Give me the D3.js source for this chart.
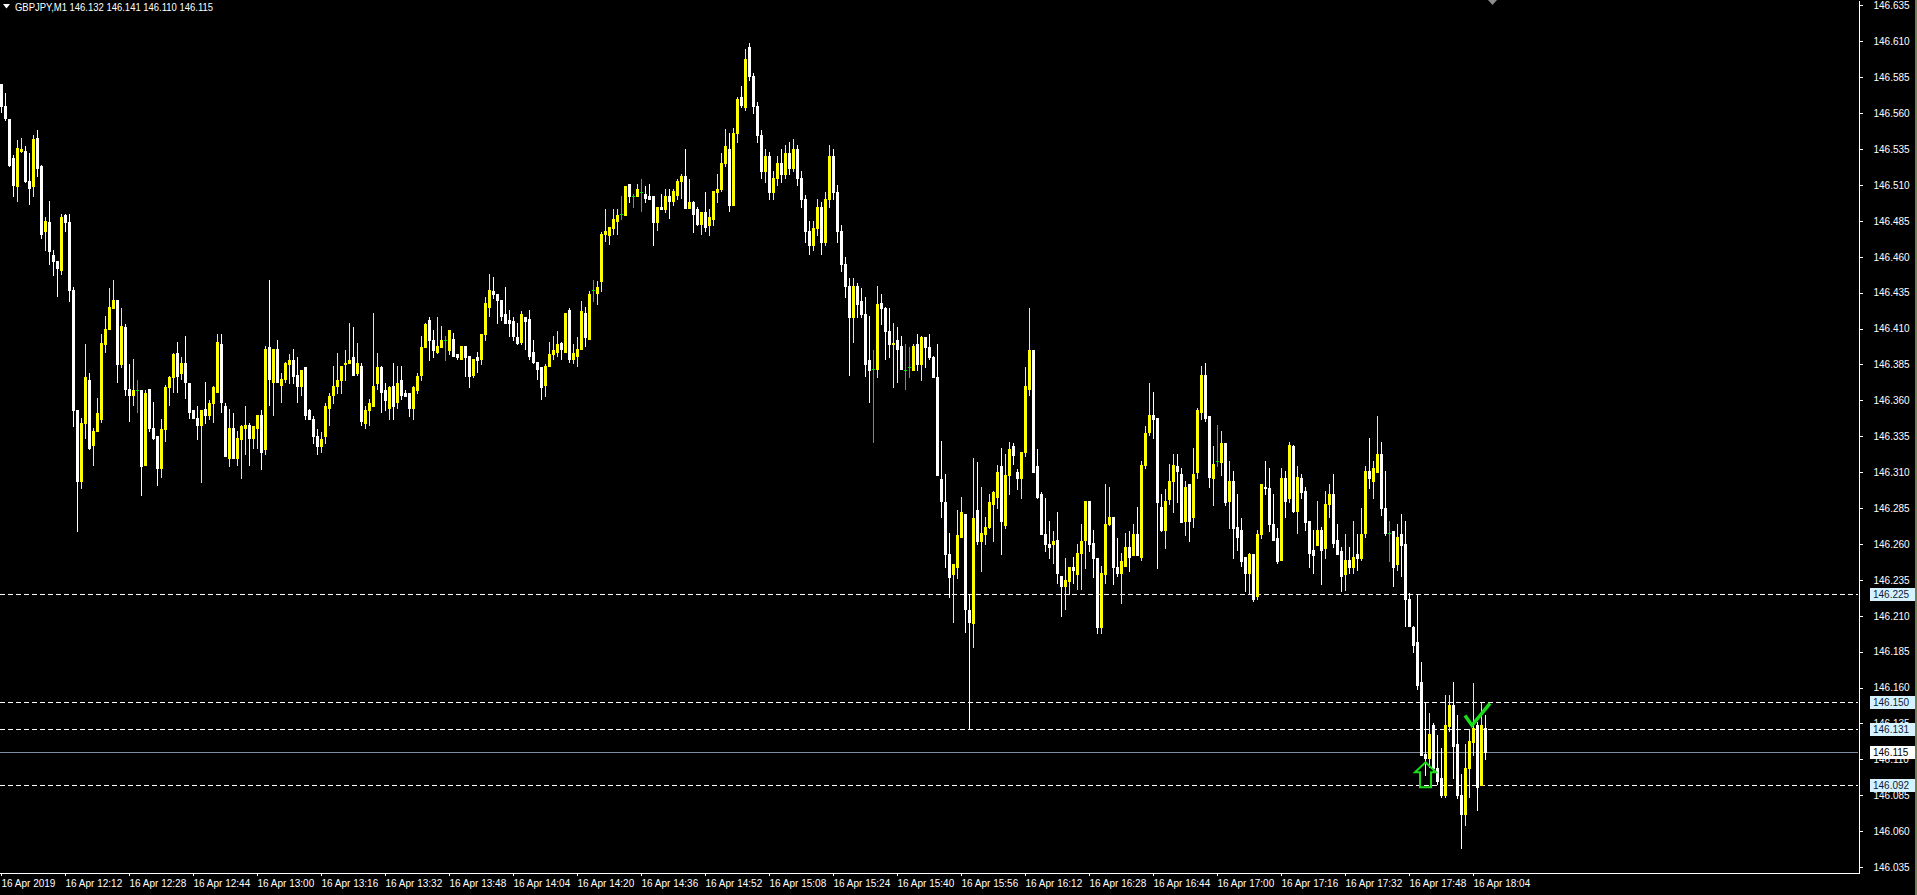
<!DOCTYPE html>
<html><head><meta charset="utf-8">
<script src="https://cdn.jsdelivr.net/npm/d3@7"></script>
<style>body{margin:0;background:#000;overflow:hidden}svg{display:block}</style>
</head><body><svg id="c" width="1917" height="895"></svg>
<script>
const symbol = "GBPJPY,M1";
const lastQuote = "146.132 146.141 146.110 146.115";
const opens = [
146.580,146.565,146.556,146.529,146.509,146.534,146.534,146.513,146.509,146.543,
146.523,146.478,146.484,146.461,146.457,146.451,146.489,146.484,146.437,146.353,
146.304,146.344,146.374,146.329,146.339,146.347,146.399,146.410,146.424,146.430,
146.385,146.411,146.368,146.364,146.367,146.367,146.315,146.368,146.341,146.335,
146.313,146.340,146.369,146.376,146.393,146.379,146.386,146.372,146.353,146.348,
146.343,146.354,146.350,146.358,146.366,146.399,146.356,146.320,146.341,146.320,
146.333,146.341,146.343,146.334,146.341,146.350,146.326,146.397,146.373,146.396,
146.371,146.375,146.385,146.388,146.378,146.370,146.383,146.353,146.347,146.335,
146.328,146.335,146.355,146.364,146.370,146.374,146.385,146.386,146.390,146.379,
146.384,146.344,146.353,146.356,146.372,146.383,146.367,146.355,146.370,146.359,
146.374,146.365,146.365,146.355,146.367,146.378,146.397,146.416,146.402,146.394,
146.397,146.402,146.395,146.403,146.392,146.389,146.398,146.391,146.378,146.390,
146.389,146.406,146.425,146.436,146.434,146.430,146.420,146.416,146.415,146.404,
146.401,146.418,146.417,146.394,146.387,146.383,146.371,146.384,146.392,146.394,
146.400,146.394,146.423,146.389,146.391,146.396,146.421,146.403,146.437,146.435,
146.443,146.476,146.475,146.480,146.485,146.490,146.489,146.511,146.502,146.502,
146.505,146.504,146.502,146.502,146.484,146.495,146.493,146.502,146.499,146.503,
146.513,146.516,146.494,146.498,146.493,146.483,146.491,146.482,146.486,146.505,
146.507,146.525,146.535,146.496,146.546,146.571,146.564,146.606,146.586,146.565,
146.545,146.520,146.530,146.505,146.515,146.525,146.518,146.532,146.522,146.535,
146.515,146.500,146.478,146.468,146.480,146.495,146.470,146.500,146.530,146.505,
146.478,146.455,146.440,146.418,146.440,146.429,146.420,146.388,146.382,146.382,
146.428,146.424,146.408,146.399,146.402,146.398,146.381,146.383,146.381,146.399,
146.385,146.404,146.397,146.390,146.376,146.305,146.289,146.253,146.239,146.244,
146.265,146.281,146.214,146.205,146.284,146.262,146.267,146.272,146.288,146.293,
146.314,146.273,146.308,146.328,146.310,146.306,146.324,146.368,146.395,146.314,
146.295,146.267,146.260,146.260,146.263,146.238,146.231,146.234,146.244,146.239,
146.254,146.263,146.290,146.261,146.250,146.202,146.239,146.274,146.279,146.244,
146.240,146.245,146.258,146.252,146.267,146.251,146.315,146.338,146.350,146.348,
146.286,146.270,146.291,146.304,146.314,146.309,146.276,146.302,146.279,146.310,
146.352,146.378,146.349,146.306,146.318,146.317,146.330,146.290,146.304,146.272,
146.270,146.251,146.240,146.253,146.224,146.267,146.300,146.299,146.274,146.264,
146.249,146.306,146.292,146.328,146.283,146.306,146.297,146.276,146.256,146.259,
146.270,146.257,146.288,146.295,146.263,146.255,146.239,146.249,146.244,146.253,
146.250,146.268,146.311,146.304,146.310,146.323,146.285,146.268,146.269,146.246,
146.267,146.260,146.222,146.202,146.192,146.164,146.114,146.111,146.134,146.104,
146.097,146.085,146.133,146.148,146.121,146.085,146.072,146.104,146.122,146.134,
146.092,146.132];
const highs = [
146.580,146.574,146.556,146.531,146.541,146.543,146.537,146.532,146.545,146.548,
146.524,146.488,146.499,146.465,146.457,146.490,146.490,146.490,146.439,146.353,
146.348,146.399,146.379,146.341,146.362,146.406,146.419,146.438,146.444,146.430,
146.424,146.413,146.385,146.389,146.374,146.367,146.367,146.368,146.359,146.335,
146.347,146.371,146.377,146.393,146.401,146.390,146.405,146.372,146.353,146.356,
146.353,146.373,146.360,146.370,146.406,146.406,146.358,146.354,146.351,146.339,
146.343,146.356,146.344,146.342,146.350,146.353,146.398,146.444,146.396,146.402,
146.379,146.387,146.392,146.396,146.390,146.381,146.383,146.354,146.349,146.340,
146.338,146.358,146.365,146.384,146.393,146.384,146.395,146.414,146.411,146.400,
146.386,146.356,146.361,146.421,146.393,146.384,146.372,146.370,146.386,146.384,
146.384,146.367,146.365,146.370,146.379,146.405,146.414,146.418,146.409,146.418,
146.412,146.405,146.409,146.407,146.392,146.398,146.398,146.391,146.389,146.394,
146.406,146.432,146.448,146.446,146.434,146.430,146.439,146.423,146.418,146.414,
146.422,146.418,146.423,146.402,146.387,146.383,146.385,146.401,146.405,146.408,
146.401,146.421,146.424,146.399,146.404,146.429,146.425,146.436,146.444,146.443,
146.477,146.493,146.481,146.493,146.493,146.502,146.509,146.511,146.504,146.511,
146.514,146.509,146.511,146.502,146.495,146.504,146.507,146.507,146.507,146.514,
146.518,146.535,146.514,146.499,146.495,146.491,146.505,146.493,146.506,146.518,
146.532,146.549,146.546,146.550,146.571,146.579,146.605,146.609,146.588,146.568,
146.548,146.535,146.533,146.520,146.530,146.535,146.538,146.540,146.542,146.538,
146.520,146.503,146.485,146.485,146.500,146.498,146.505,146.538,146.535,146.510,
146.482,146.460,146.445,146.445,146.442,146.438,146.432,146.419,146.395,146.440,
146.434,146.425,146.424,146.414,146.411,146.405,146.399,146.397,146.399,146.406,
146.405,146.404,146.406,146.391,146.399,146.332,146.309,146.268,146.246,146.284,
146.293,146.281,146.225,146.320,146.317,146.300,146.279,146.295,146.297,146.315,
146.327,146.323,146.331,146.330,146.312,146.324,146.383,146.424,146.395,146.326,
146.296,146.292,146.276,146.269,146.282,146.238,146.250,146.244,146.251,146.260,
146.274,146.290,146.290,146.270,146.250,146.245,146.302,146.300,146.279,146.264,
146.254,146.268,146.269,146.274,146.286,146.318,146.342,146.372,146.366,146.348,
146.295,146.298,146.316,146.323,146.323,146.313,146.304,146.302,146.327,146.355,
146.384,146.386,146.349,146.328,146.343,146.339,146.330,146.318,146.311,146.295,
146.278,146.251,146.254,146.253,146.270,146.302,146.318,146.313,146.295,146.271,
146.313,146.311,146.331,146.329,146.314,146.309,146.300,146.276,146.270,146.290,
146.272,146.297,146.302,146.309,146.274,146.258,146.267,146.258,146.276,146.267,
146.285,146.314,146.334,146.318,146.349,146.331,146.311,146.276,146.269,146.274,
146.281,146.276,146.226,146.203,146.225,146.178,146.149,146.142,146.135,146.127,
146.118,146.155,146.155,146.164,146.141,146.100,146.121,146.131,146.163,146.136,
146.149,146.141];
const lows = [
146.561,146.555,146.523,146.502,146.499,146.533,146.512,146.497,146.502,146.516,
146.473,146.465,146.455,146.447,146.433,146.448,146.478,146.429,146.342,146.269,
146.299,146.334,146.326,146.315,146.339,146.345,146.394,146.410,146.424,146.373,
146.383,146.364,146.346,146.357,146.352,146.294,146.315,146.339,146.333,146.301,
146.307,146.332,146.357,146.366,146.366,146.375,146.362,146.348,146.348,146.333,
146.303,146.344,146.347,146.345,146.366,146.352,146.321,146.314,146.320,146.315,
146.306,146.323,146.315,146.327,146.327,146.312,146.323,146.357,146.350,146.373,
146.359,146.373,146.372,146.372,146.359,146.364,146.347,146.347,146.330,146.323,
146.324,146.330,146.343,146.358,146.365,146.365,146.374,146.386,146.378,146.378,
146.343,146.341,146.343,146.356,146.368,146.352,146.353,146.347,146.347,146.355,
146.361,146.363,146.349,146.347,146.365,146.374,146.397,146.388,146.390,146.393,
146.397,146.388,146.392,146.391,146.389,146.389,146.377,146.369,146.376,146.380,
146.385,146.402,146.419,146.431,146.414,146.416,146.414,146.405,146.402,146.399,
146.399,146.396,146.389,146.386,146.375,146.361,146.363,146.384,146.389,146.391,
146.389,146.394,146.387,146.386,146.384,146.396,146.398,146.403,146.429,146.427,
146.436,146.471,146.469,146.476,146.476,146.486,146.489,146.498,146.495,146.502,
146.492,146.498,146.500,146.468,146.479,146.493,146.491,146.487,146.496,146.500,
146.501,146.494,146.494,146.477,146.482,146.476,146.478,146.475,146.482,146.498,
146.506,146.523,146.492,146.496,146.540,146.564,146.562,146.583,146.560,146.540,
146.515,146.512,146.500,146.500,146.510,146.512,146.515,146.518,146.520,146.510,
146.495,146.470,146.462,146.465,146.475,146.462,146.468,146.495,146.500,146.470,
146.450,146.432,146.378,146.401,146.418,146.418,146.377,146.359,146.331,146.376,
146.413,146.389,146.390,146.369,146.373,146.382,146.368,146.376,146.381,146.381,
146.374,146.383,146.389,146.376,146.308,146.279,146.244,146.223,146.206,146.236,
146.265,146.199,146.131,146.188,146.260,146.241,146.260,146.271,146.262,146.285,
146.253,146.271,146.295,146.316,146.298,146.292,146.321,146.364,146.310,146.292,
146.267,146.255,146.250,146.247,146.233,146.210,146.215,146.225,146.233,146.229,
146.229,146.243,146.255,146.237,146.198,146.198,146.233,146.273,146.232,146.238,
146.219,146.245,146.241,146.252,146.252,146.249,146.313,146.336,146.334,146.243,
146.269,146.257,146.288,146.282,146.289,146.275,146.266,146.262,146.272,146.306,
146.347,146.346,146.300,146.287,146.314,146.308,146.287,146.271,146.250,146.256,
146.245,146.227,146.225,146.220,146.222,146.264,146.295,146.269,146.263,146.247,
146.249,146.279,146.289,146.282,146.268,146.292,146.270,146.244,146.240,146.259,
146.232,146.250,146.279,146.258,146.253,146.227,146.228,146.240,146.240,146.242,
146.249,146.265,146.299,146.292,146.310,146.280,146.266,146.248,146.231,146.242,
146.238,146.203,146.203,146.185,146.159,146.113,146.099,146.105,146.102,146.093,
146.084,146.084,146.130,146.097,146.083,146.048,146.064,146.084,146.113,146.075,
146.092,146.110];
const closes = [
146.565,146.557,146.524,146.510,146.536,146.535,146.513,146.508,146.542,146.522,
146.476,146.485,146.464,146.457,146.452,146.488,146.484,146.437,146.353,146.304,
146.344,146.376,146.327,146.339,146.351,146.400,146.410,146.425,146.430,146.385,
146.412,146.368,146.364,146.367,146.367,146.314,146.365,146.341,146.334,146.313,
146.340,146.369,146.376,146.392,146.377,146.386,146.373,146.352,146.348,146.343,
146.353,146.350,146.358,146.369,146.401,146.359,146.321,146.341,146.320,146.334,
146.342,146.343,146.334,146.342,146.350,146.324,146.396,146.375,146.396,146.373,
146.375,146.386,146.388,146.377,146.370,146.381,146.350,146.347,146.335,146.328,
146.333,146.356,146.363,146.370,146.374,146.384,146.386,146.388,146.378,146.386,
146.346,146.353,146.358,146.370,146.383,146.366,146.360,146.369,146.356,146.372,
146.364,146.363,146.355,146.369,146.377,146.397,146.413,146.402,146.395,146.398,
146.402,146.402,146.409,146.391,146.390,146.398,146.390,146.377,146.389,146.388,
146.406,146.428,146.437,146.434,146.430,146.419,146.414,146.414,146.405,146.400,
146.420,146.415,146.391,146.387,146.382,146.369,146.384,146.392,146.395,146.399,
146.396,146.421,146.389,146.393,146.396,146.422,146.404,146.434,146.437,146.439,
146.476,146.478,146.481,146.486,146.489,146.490,146.509,146.502,146.502,146.507,
146.505,146.501,146.500,146.484,146.495,146.493,146.502,146.499,146.506,146.513,
146.516,146.494,146.498,146.490,146.483,146.491,146.481,146.488,146.506,146.507,
146.525,146.537,146.496,146.546,146.570,146.566,146.598,146.586,146.565,146.545,
146.520,146.530,146.505,146.515,146.525,146.518,146.532,146.522,146.535,146.515,
146.500,146.478,146.468,146.480,146.495,146.470,146.500,146.530,146.505,146.478,
146.455,146.440,146.418,146.440,146.427,146.420,146.385,146.381,146.382,146.427,
146.424,146.408,146.399,146.400,146.396,146.382,146.381,146.383,146.398,146.385,
146.404,146.397,146.390,146.376,146.308,146.290,146.253,146.237,146.246,146.266,
146.282,146.215,146.206,146.278,146.262,146.268,146.272,146.289,146.296,146.310,
146.276,146.308,146.326,146.322,146.306,146.324,146.370,146.395,146.310,146.293,
146.267,146.260,146.258,146.262,146.240,146.231,146.235,146.244,146.242,146.254,
146.262,146.290,146.260,146.250,146.202,146.240,146.274,146.279,146.244,146.240,
146.248,146.258,146.251,146.267,146.252,146.315,146.337,146.350,146.347,146.289,
146.270,146.290,146.304,146.315,146.311,146.275,146.300,146.276,146.309,146.353,
146.378,146.348,146.307,146.316,146.318,146.330,146.289,146.304,146.271,146.265,
146.248,146.240,146.253,146.222,146.267,146.302,146.299,146.274,146.263,146.248,
146.306,146.290,146.329,146.283,146.307,146.296,146.275,146.254,146.252,146.270,
146.256,146.288,146.295,146.261,146.253,146.238,146.249,146.244,146.251,146.250,
146.267,146.311,146.306,146.313,146.323,146.285,146.268,146.268,146.244,146.265,
146.259,146.222,146.203,146.190,146.162,146.113,146.111,146.128,146.104,146.095,
146.085,146.134,146.148,146.119,146.085,146.072,146.104,146.123,146.132,146.091,
146.134,146.115];
const priceTicks = [146.635,146.610,146.585,146.560,146.535,146.510,146.485,146.460,146.435,146.410,
  146.385,146.360,146.335,146.310,146.285,146.260,146.235,146.210,146.185,146.160,146.135,146.110,146.085,146.060,146.035];
const timeLabels = ["16 Apr 2019","16 Apr 12:12","16 Apr 12:28","16 Apr 12:44","16 Apr 13:00","16 Apr 13:16",
  "16 Apr 13:32","16 Apr 13:48","16 Apr 14:04","16 Apr 14:20","16 Apr 14:36","16 Apr 14:52","16 Apr 15:08",
  "16 Apr 15:24","16 Apr 15:40","16 Apr 15:56","16 Apr 16:12","16 Apr 16:28","16 Apr 16:44","16 Apr 17:00",
  "16 Apr 17:16","16 Apr 17:32","16 Apr 17:48","16 Apr 18:04"];
const timeLabelBars = [0,16,32,48,64,80,96,112,128,144,160,176,192,208,224,240,256,272,288,304,320,336,352,368];
const levelLines = [146.225,146.150,146.131,146.092];
const bidPrice = 146.115;
const arrowBar = 356, arrowPrice = 146.108;
const checkBar = 366, checkPrice = 146.149;

const W = 1917, H = 895, plotR = 1858, plotB = 873;
const FONT = "'Liberation Sans', Arial, sans-serif";
const svg = d3.select('#c');
svg.append('rect').attr('width', W).attr('height', H).attr('fill', '#000');

const N = opens.length;
const x = d3.scaleBand().domain(d3.range(N)).range([0, 4 * N - 1]).paddingInner(0.25).paddingOuter(0);
const y = d3.scaleLinear().domain([146.03089, 146.63883]).range([plotB, 0]);
const ry = v => Math.round(y(v));

const bars = d3.range(N).map(i => ({i, o: opens[i], h: highs[i], l: lows[i], c: closes[i]}));
const col = d => d.c > d.o ? '#ffff00' : (d.c < d.o ? '#ffffff' : '#00e000');

const g = svg.append('g').attr('shape-rendering', 'crispEdges');
levelLines.forEach(v => {
  g.append('line').attr('x1', 0).attr('x2', plotR).attr('y1', ry(v) + 0.5).attr('y2', ry(v) + 0.5)
    .attr('stroke', '#ffffff').attr('stroke-width', 1).attr('stroke-dasharray', '5,3');
});
g.append('line').attr('x1', 0).attr('x2', plotR).attr('y1', ry(bidPrice) + 0.5).attr('y2', ry(bidPrice) + 0.5)
  .attr('stroke', '#7d8ea3').attr('stroke-width', 1);

g.selectAll('rect.wick').data(bars).join('rect').attr('class', 'wick')
  .attr('x', d => x(d.i) + 1).attr('width', 1)
  .attr('y', d => ry(d.h)).attr('height', d => ry(d.l) - ry(d.h) + 1)
  .attr('fill', col);
g.selectAll('rect.body').data(bars).join('rect').attr('class', 'body')
  .attr('x', d => x(d.i)).attr('width', x.bandwidth())
  .attr('y', d => ry(Math.max(d.o, d.c)))
  .attr('height', d => ry(Math.min(d.o, d.c)) - ry(Math.max(d.o, d.c)) + 1)
  .attr('fill', col);

g.append('line').attr('x1', 0).attr('x2', plotR + 0.5).attr('y1', plotB + 0.5).attr('y2', plotB + 0.5).attr('stroke', '#fff');

const ya = svg.append('g').attr('transform', `translate(${plotR + 0.5},0)`)
  .call(d3.axisRight(y).tickValues(priceTicks).tickFormat(d3.format('.3f')).tickSize(4).tickPadding(11).tickSizeOuter(0));
ya.select('.domain').attr('stroke', '#fff').attr('shape-rendering', 'crispEdges');
ya.selectAll('.tick line').attr('stroke', '#fff').attr('shape-rendering', 'crispEdges');
ya.selectAll('.tick text').attr('fill', '#fff').style('font-family', FONT).style('font-size', '10px');

const xa = svg.append('g').attr('transform', `translate(0,${plotB})`)
  .call(d3.axisBottom(x).tickValues(timeLabelBars).tickFormat((d, k) => timeLabels[k]).tickSize(3).tickPadding(4).tickSizeOuter(0));
xa.select('.domain').remove();
xa.selectAll('.tick').attr('transform', d => `translate(${x(d) + 1.5},0)`);
xa.selectAll('.tick line').attr('stroke', '#fff').attr('shape-rendering', 'crispEdges');
xa.selectAll('.tick text').attr('fill', '#fff').attr('text-anchor', 'start').attr('x', 0)
  .style('font-family', FONT).style('font-size', '10px');

function axisBox(v, fill, txt) {
  const cy = ry(v);
  svg.append('rect').attr('x', 1870).attr('y', cy - 6).attr('width', 45).attr('height', 13).attr('fill', fill)
    .attr('shape-rendering', 'crispEdges');
  svg.append('text').attr('x', 1873).attr('y', cy + 4).attr('fill', txt).style('font-family', FONT)
    .style('font-size', '10px').text(d3.format('.3f')(v));
}
levelLines.forEach(v => axisBox(v, '#d6f2ff', '#0a1a3a'));
axisBox(bidPrice, '#ffffff', '#000000');

const ax = x(arrowBar) + 1.5, ay = y(arrowPrice);
svg.append('path').attr('d', `M${ax},${ay} L${ax + 10.5},${ay + 10} L${ax + 5.5},${ay + 10} L${ax + 5.5},${ay + 25} L${ax - 5.5},${ay + 25} L${ax - 5.5},${ay + 10} L${ax - 10.5},${ay + 10} Z`)
  .attr('fill', 'none').attr('stroke', '#19dd19').attr('stroke-width', 2);
const cx0 = x(checkBar) + 1, cy0 = y(checkPrice);
svg.append('path').attr('d', `M${cx0},${cy0 + 12} L${cx0 + 7},${cy0 + 22} L${cx0 + 25},${cy0}`)
  .attr('fill', 'none').attr('stroke', '#19dd19').attr('stroke-width', 3.5).attr('stroke-linejoin', 'miter');

svg.append('path').attr('d', 'M3,4 L10,4 L6.5,8.5 Z').attr('fill', '#fff');
svg.append('text').attr('x', 15).attr('y', 11).attr('fill', '#fff').style('font-family', FONT)
  .style('font-size', '10px').attr('textLength', 198).attr('lengthAdjust', 'spacingAndGlyphs')
  .text(symbol + '  ' + lastQuote);
svg.append('path').attr('d', 'M1488,0 L1497,0 L1492.5,5 Z').attr('fill', '#8c8c8c');
svg.append('rect').attr('x', 1915).attr('y', 0).attr('width', 2).attr('height', H).attr('fill', '#6f7d55');
</script></body></html>
